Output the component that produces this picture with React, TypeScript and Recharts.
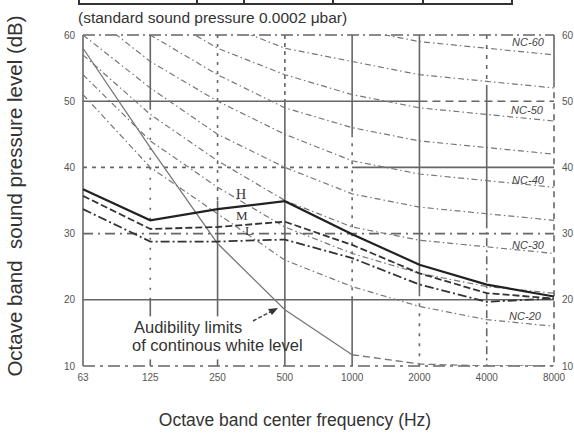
import React from "react";
import { LineChart, Line, XAxis, YAxis, ReferenceLine } from "recharts";

// octave band centre frequencies (Hz)
const FREQS = ["63", "125", "250", "500", "1000", "2000", "4000", "8000"];
const Y_TICKS = [10, 20, 30, 40, 50, 60];

// NC curves (dB)
const NC20 = [51, 40, 33, 26, 22, 19, 17, 16];
const NC25 = [54, 44, 37, 31, 27, 24, 22, 21];
const NC30 = [57, 48, 41, 35, 31, 29, 28, 27];
const NC35 = [60, 52, 45, 40, 36, 34, 33, 32];
const NC40 = [64, 56, 50, 45, 41, 39, 38, 37];
const NC45 = [67, 60, 54, 49, 46, 44, 43, 42];
const NC50 = [71, 64, 58, 54, 51, 49, 48, 47];
const NC55 = [74, 67, 62, 58, 56, 54, 53, 52];
const NC60 = [77, 71, 67, 63, 61, 59, 58, 57];

// measured levels H / M / L
const H_LEVEL = [36.7, 32.0, 33.7, 34.9, 29.9, 25.3, 22.3, 20.5];
const M_LEVEL = [35.7, 30.7, 31.0, 31.8, 28.3, 24.0, 21.0, 20.2];
const L_LEVEL = [33.7, 28.8, 28.8, 29.1, 26.3, 22.3, 19.7, 20.2];

// audibility limit of continuous white noise
const AUDIBLE_SOLID = [58, 43, 28.5, 18.5, 11.7, null, null, null];
const AUDIBLE_DASHED = [null, null, null, null, 11.7, 10.3, 10, 10];

const NC_KEYS = ["nc20", "nc25", "nc30", "nc35", "nc40", "nc45", "nc50", "nc55", "nc60"];
const NC_SERIES = [NC20, NC25, NC30, NC35, NC40, NC45, NC50, NC55, NC60];

const data = FREQS.map((f, i) => {
  const row: Record<string, any> = {
    freq: f,
    h: H_LEVEL[i],
    m: M_LEVEL[i],
    l: L_LEVEL[i],
    audS: AUDIBLE_SOLID[i],
    audD: AUDIBLE_DASHED[i],
  };
  NC_KEYS.forEach((k, j) => (row[k] = NC_SERIES[j][i]));
  return row;
});

// grid pieces: [x1, y1, x2, y2, dash]
const GRID_H: [string, number, string, number, string][] = [
  ["63", 60, "8000", 60, "12 4 2 4"],
  ["63", 50, "2000", 50, ""],
  ["2000", 50, "8000", 50, "8 5"],
  ["63", 40, "1000", 40, "4 5"],
  ["1000", 40, "8000", 40, ""],
  ["63", 30, "8000", 30, "10 5 2 5"],
  ["63", 20, "8000", 20, ""],
  ["63", 10, "8000", 10, "12 5 3 5"],
];
const GRID_V: [string, number, string, number, string][] = [
  ["63", 60, "63", 10, ""],
  ["125", 60, "125", 49, ""],
  ["125", 49, "125", 20, "2 8"],
  ["125", 20, "125", 17.5, ""],
  ["125", 11, "125", 10, ""],
  ["250", 60, "250", 35, "3 6"],
  ["250", 35, "250", 17.5, ""],
  ["250", 11, "250", 10, ""],
  ["500", 60, "500", 50, "4 4"],
  ["500", 50, "500", 10, ""],
  ["1000", 60, "1000", 45, ""],
  ["1000", 45, "1000", 20, "3 6"],
  ["1000", 20, "1000", 10, ""],
  ["2000", 60, "2000", 21, ""],
  ["2000", 21, "2000", 10, "3 7"],
  ["4000", 60, "4000", 52, "4 6"],
  ["4000", 52, "4000", 32, ""],
  ["4000", 32, "4000", 10, "8 4 2 4"],
  ["8000", 60, "8000", 53, ""],
  ["8000", 53, "8000", 10, "6 5"],
];

const NC_LABELS = [
  { text: "NC-60", x: 528, y: 42 },
  { text: "NC-50", x: 527, y: 110 },
  { text: "NC-40", x: 528, y: 180 },
  { text: "NC-30", x: 528, y: 245 },
  { text: "NC-20", x: 525, y: 316 },
];

const FONT = "'Liberation Sans', Arial, sans-serif";
const GRID = "#666";

const abs = (x: number, y: number, extra: React.CSSProperties = {}): React.CSSProperties => ({
  position: "absolute",
  left: x,
  top: y,
  fontFamily: FONT,
  color: "#333",
  whiteSpace: "nowrap",
  lineHeight: 1,
  ...extra,
});

export default function App() {
  const tick = { fontSize: 10, fill: "#555", fontFamily: FONT };
  return (
    <div style={{ position: "absolute", left: 0, top: 0, width: 574, height: 440, background: "#fff", overflow: "hidden" }}>
      {/* bottom edge of the table above */}
      <div style={{ position: "absolute", left: 78, top: -10, width: 431, height: 13, border: "2px solid #333", borderTop: "none" }} />
      {[196, 243, 332, 422].map((x) => (
        <div key={x} style={{ position: "absolute", left: x, top: 0, width: 1.5, height: 4, background: "#333" }} />
      ))}

      <LineChart width={574} height={440} data={data} margin={{ top: 35, right: 0, bottom: 0, left: 0 }}>
        <XAxis
          dataKey="freq"
          interval={0}
          height={74}
          tickLine={false}
          axisLine={false}
          tick={tick}
        />
        <YAxis
          domain={[10, 60]}
          ticks={Y_TICKS}
          width={83}
          allowDataOverflow
          tickLine={false}
          axisLine={false}
          tick={tick}
        />
        <YAxis
          yAxisId="r"
          orientation="right"
          domain={[10, 60]}
          ticks={Y_TICKS}
          width={20}
          allowDataOverflow
          tickLine={false}
          axisLine={false}
          tick={{ ...tick, textAnchor: "start" }}
        />
        {[...GRID_H, ...GRID_V].map(([x1, y1, x2, y2, dash], i) => (
          <ReferenceLine
            key={`g${i}-${x1}-${y1}-${x2}-${y2}`}
            segment={[{ x: x1, y: y1 }, { x: x2, y: y2 }]}
            ifOverflow="visible"
            stroke={GRID}
            strokeWidth={1.6}
            strokeDasharray={dash || undefined}
          />
        ))}
        {NC_KEYS.map((k) => (
          <Line
            key={k}
            dataKey={k}
            type="linear"
            stroke="#777"
            strokeWidth={1.2}
            strokeDasharray="6 3 1.5 3"
            dot={false}
            isAnimationActive={false}
          />
        ))}
        <Line dataKey="audS" type="linear" stroke="#777" strokeWidth={1.3} dot={false} isAnimationActive={false} />
        <Line dataKey="audD" type="linear" stroke="#777" strokeWidth={1.3} strokeDasharray="7 4" dot={false} isAnimationActive={false} />
        <Line dataKey="l" type="linear" stroke="#333" strokeWidth={1.8} strokeDasharray="9 3 2 3" dot={false} isAnimationActive={false} />
        <Line dataKey="m" type="linear" stroke="#333" strokeWidth={1.8} strokeDasharray="7 3" dot={false} isAnimationActive={false} />
        <Line dataKey="h" type="linear" stroke="#222" strokeWidth={2.2} dot={false} isAnimationActive={false} />
      </LineChart>

      {/* arrow to the audibility line */}
      <svg width={574} height={440} style={{ position: "absolute", left: 0, top: 0, pointerEvents: "none" }}>
        <line x1={253} y1={321} x2={272} y2={311} stroke="#444" strokeWidth={1.5} strokeDasharray="4 2" />
        <polygon points="278,308 268,309 272,315" fill="#333" />
      </svg>

      <div style={abs(78, 10, { fontSize: 15.5 })}>(standard sound pressure 0.0002 μbar)</div>
      <div
        style={abs(15, 196, {
          fontSize: 20.5,
          transform: "translate(-50%, -50%) rotate(-90deg)",
        })}
      >
        Octave band&nbsp; sound pressure level (dB)
      </div>
      <div style={abs(295, 421, { fontSize: 17.5, transform: "translate(-50%, -50%)" })}>
        Octave band center frequency (Hz)
      </div>
      <div style={abs(134, 319, { fontSize: 16.5 })}>Audibility limits</div>
      <div style={abs(132, 337, { fontSize: 16.5 })}>of continous white level</div>

      <div style={abs(236, 188, { fontSize: 14, fontFamily: "'Liberation Serif', serif" })}>H</div>
      <div style={abs(236, 209, { fontSize: 13, fontFamily: "'Liberation Serif', serif" })}>M</div>
      <div style={abs(245, 224, { fontSize: 13, fontFamily: "'Liberation Serif', serif" })}>L</div>

      {NC_LABELS.map((n) => (
        <div
          key={n.text}
          style={abs(n.x, n.y, {
            fontSize: 11,
            fontStyle: "italic",
            color: "#444",
            transform: "translate(-50%, -50%)",
          })}
        >
          {n.text}
        </div>
      ))}
    </div>
  );
}
